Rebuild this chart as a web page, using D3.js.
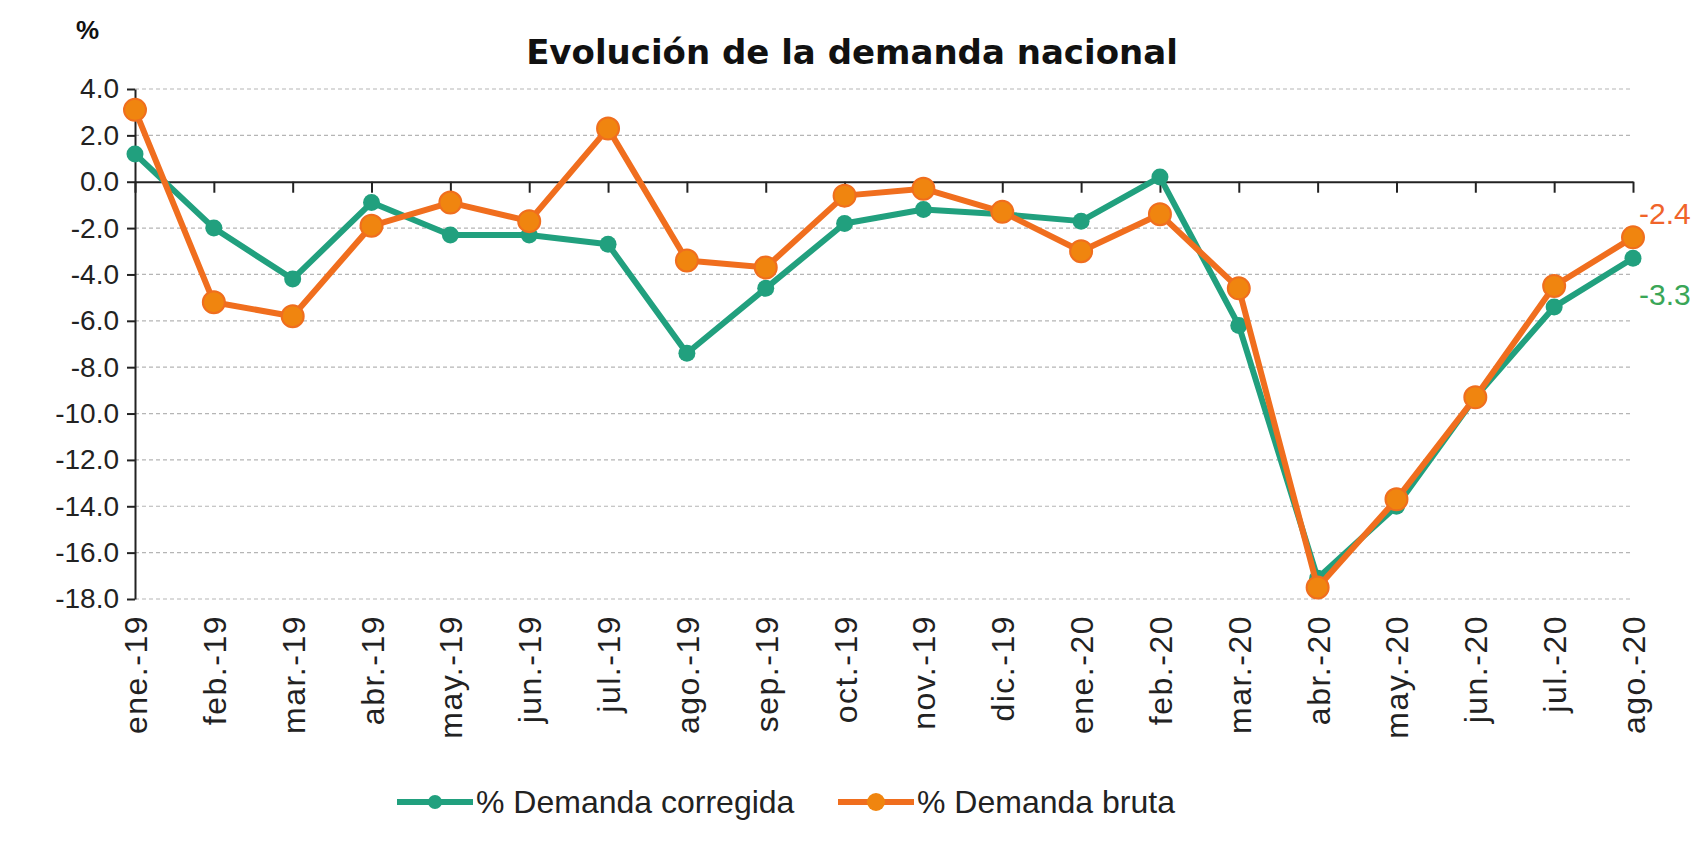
<!DOCTYPE html>
<html>
  <head>
    <style>
      body { margin: 0; background: #fff; }
      .tick text { font: 28px "Liberation Sans", Arial, sans-serif; fill: #222; }
      .grid line { stroke: #b5b5b5; stroke-width: 1.2; stroke-dasharray: 4,3; }
      .chart-title { font: bold 34px "DejaVu Sans", sans-serif; text-anchor: middle; fill: #111; }
      .legend-text { font: 32px "Liberation Sans", Arial, sans-serif; fill: #222; }
    </style>
  </head>
  <body>
    <script src="https://d3js.org/d3.v7.min.js"></script>
    <svg></svg>
    <script>
      // Data
      const months = ["ene.-19", "feb.-19", "mar.-19", "abr.-19", "may.-19", "jun.-19", "jul.-19",
        "ago.-19", "sep.-19", "oct.-19", "nov.-19", "dic.-19", "ene.-20", "feb.-20", "mar.-20",
        "abr.-20", "may.-20", "jun.-20", "jul.-20", "ago.-20"];
      const corregida = [1.2, -2.0, -4.2, -0.9, -2.3, -2.3, -2.7, -7.4, -4.6, -1.8, -1.2, -1.4,
        -1.7, 0.2, -6.2, -17.1, -14.0, -9.3, -5.4, -3.3];
      const bruta = [3.1, -5.2, -5.8, -1.9, -0.9, -1.7, 2.3, -3.4, -3.7, -0.6, -0.3, -1.3,
        -3.0, -1.4, -4.6, -17.5, -13.7, -9.3, -4.5, -2.4];
      const yTicks = [4, 2, 0, -2, -4, -6, -8, -10, -12, -14, -16, -18];

      const width = 1706, height = 844;
      const margin = { top: 89, right: 73, bottom: 245, left: 135 };

      const green = "#21a07e", orange = "#f06e1e", orangeFill = "#f0850f";

      const svg = d3.select("svg").attr("width", width).attr("height", height);

      const x = d3.scalePoint().domain(months).range([margin.left, width - margin.right]);
      const y = d3.scaleLinear().domain([-18, 4]).range([height - margin.bottom, margin.top]);

      // hyphen minus like the original
      const fmt = d3.formatLocale({ decimal: ".", thousands: ",", grouping: [3], currency: ["", ""], minus: "-" }).format(".1f");

      // Grid lines
      svg.append("g")
        .attr("class", "grid")
        .selectAll("line")
        .data(yTicks.filter((d) => d !== 0))
        .enter()
        .append("line")
        .attr("x1", margin.left)
        .attr("x2", width - margin.right)
        .attr("y1", (d) => y(d))
        .attr("y2", (d) => y(d));

      // Y axis
      const yAxis = svg.append("g")
        .attr("transform", `translate(${margin.left},0)`)
        .call(d3.axisLeft(y).tickValues(yTicks).tickFormat(fmt).tickSize(8).tickSizeOuter(0).tickPadding(8));
      yAxis.selectAll("path, line").attr("stroke", "#222").attr("stroke-width", 2);

      // X axis at zero, ticks only
      const xAxis = svg.append("g")
        .attr("transform", `translate(0,${y(0)})`)
        .call(d3.axisBottom(x).tickSize(11).tickSizeOuter(0).tickFormat(""));
      xAxis.selectAll("path, line").attr("stroke", "#222").attr("stroke-width", 2);

      // Month labels, rotated, at the bottom
      svg.append("g")
        .selectAll("text")
        .data(months)
        .enter()
        .append("text")
        .attr("transform", (d) => `translate(${x(d) + 12},${y(-18) + 16}) rotate(-90)`)
        .attr("text-anchor", "end")
        .style("font", '32px "Liberation Sans", Arial, sans-serif')
        .style("letter-spacing", "1.5px")
        .attr("fill", "#222")
        .text((d) => d);

      const line = d3.line()
        .x((d, i) => x(months[i]))
        .y((d) => y(d));

      // green series
      svg.append("path").datum(corregida)
        .attr("fill", "none").attr("stroke", green).attr("stroke-width", 6)
        .attr("stroke-linejoin", "round").attr("d", line);
      svg.append("g").selectAll("circle").data(corregida).enter().append("circle")
        .attr("cx", (d, i) => x(months[i])).attr("cy", (d) => y(d))
        .attr("r", 8.5).attr("fill", green);

      // orange series
      svg.append("path").datum(bruta)
        .attr("fill", "none").attr("stroke", orange).attr("stroke-width", 6)
        .attr("stroke-linejoin", "round").attr("d", line);
      svg.append("g").selectAll("circle").data(bruta).enter().append("circle")
        .attr("cx", (d, i) => x(months[i])).attr("cy", (d) => y(d))
        .attr("r", 11).attr("fill", orangeFill).attr("stroke", orange).attr("stroke-width", 2);

      // End labels
      const last = months.length - 1;
      svg.append("text")
        .attr("x", x(months[last]) + 6)
        .attr("y", y(bruta[last]) - 13)
        .style("font", '30px "Liberation Sans", Arial, sans-serif')
        .attr("fill", "#f0642a")
        .text(fmt(bruta[last]));
      svg.append("text")
        .attr("x", x(months[last]) + 6)
        .attr("y", y(corregida[last]) + 47)
        .style("font", '30px "Liberation Sans", Arial, sans-serif')
        .attr("fill", "#3aa657")
        .text(fmt(corregida[last]));

      // Title and unit
      svg.append("text")
        .attr("class", "chart-title")
        .attr("x", 852)
        .attr("y", 64)
        .text("Evolución de la demanda nacional");
      svg.append("text")
        .attr("x", 76)
        .attr("y", 39)
        .style("font", 'bold 26px "Liberation Sans", Arial, sans-serif')
        .attr("fill", "#111")
        .text("%");

      // Legend
      const legend = [
        { name: "% Demanda corregida", color: green, fill: green, r: 7, x: 397 },
        { name: "% Demanda bruta", color: orange, fill: orangeFill, r: 9, x: 838 }
      ];
      const lg = svg.append("g").selectAll("g").data(legend).enter().append("g")
        .attr("transform", (d) => `translate(${d.x},802)`);
      lg.append("line").attr("x1", 0).attr("x2", 76).attr("stroke", (d) => d.color).attr("stroke-width", 6);
      lg.append("circle").attr("cx", 38).attr("r", (d) => d.r).attr("fill", (d) => d.fill);
      lg.append("text").attr("class", "legend-text").attr("x", 79).attr("y", 11).text((d) => d.name);
    </script>
  </body>
</html>
